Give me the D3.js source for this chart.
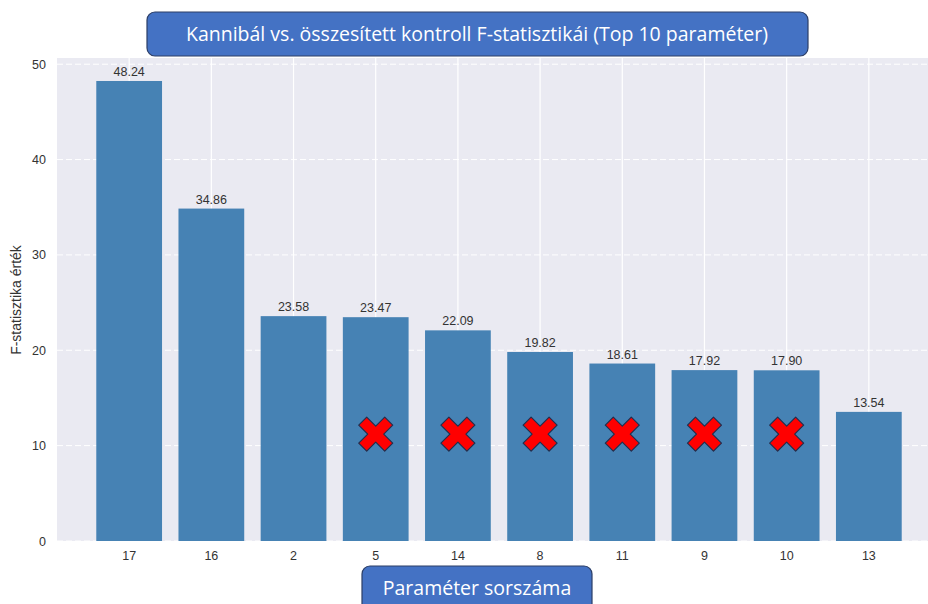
<!DOCTYPE html>
<meta charset="utf-8">
<style>
    body { margin: 0; background: #fff; }
    svg { display: block; font-family: "Liberation Sans", Arial, sans-serif; }
    .tick text { fill: #333; font-size: 12.5px; }
    .val { fill: #333; font-size: 12.5px; text-anchor: middle; }
    .box text { fill: #fff; font-family: "Open Sans", "Noto Sans", sans-serif; font-size: 19.5px; text-anchor: middle; }
</style>
<svg width="928" height="604"></svg>
<script src="https://d3js.org/d3.v7.min.js"></script>
<script>
    var params = ["17", "16", "2", "5", "14", "8", "11", "9", "10", "13"];
    var fValues = [48.24, 34.86, 23.58, 23.47, 22.09, 19.82, 18.61, 17.92, 17.90, 13.54];
    var crossed = ["5", "14", "8", "11", "9", "10"];
    var yTicks = [0, 10, 20, 30, 40, 50];

    var svg = d3.select("svg");
    var plotLeft = 57, plotTop = 58, plotBottom = 541, plotRight = 941;

    var x = d3.scaleBand()
        .domain(params)
        .range([plotLeft, plotRight])
        .paddingInner(0.2)
        .paddingOuter(0.478);

    var y = d3.scaleLinear()
        .domain([0, 50.65])
        .range([plotBottom, plotTop]);

    // background
    svg.append("rect")
        .attr("x", plotLeft).attr("y", plotTop)
        .attr("width", plotRight - plotLeft).attr("height", plotBottom - plotTop)
        .attr("fill", "#eaeaf2");

    // horizontal grid (dashed)
    svg.append("g").selectAll("line")
        .data(yTicks)
        .enter().append("line")
        .attr("x1", plotLeft).attr("x2", plotRight)
        .attr("y1", function(d) { return y(d); })
        .attr("y2", function(d) { return y(d); })
        .attr("stroke", "#fff")
        .attr("stroke-width", 1)
        .attr("stroke-dasharray", "6,3");

    // vertical grid (solid)
    svg.append("g").selectAll("line")
        .data(params)
        .enter().append("line")
        .attr("x1", function(d) { return x(d) + x.bandwidth() / 2; })
        .attr("x2", function(d) { return x(d) + x.bandwidth() / 2; })
        .attr("y1", plotTop).attr("y2", plotBottom)
        .attr("stroke", "#fff")
        .attr("stroke-width", 1.2);

    // bars
    svg.append("g").selectAll("rect")
        .data(params)
        .enter().append("rect")
        .attr("x", function(d) { return x(d); })
        .attr("width", x.bandwidth())
        .attr("y", function(d, i) { return y(fValues[i]); })
        .attr("height", function(d, i) { return plotBottom - y(fValues[i]); })
        .attr("fill", "#4682b4");

    // value labels
    svg.append("g").selectAll("text")
        .data(params)
        .enter().append("text")
        .attr("class", "val")
        .attr("x", function(d) { return x(d) + x.bandwidth() / 2; })
        .attr("y", function(d, i) { return y(fValues[i]) - 5; })
        .text(function(d, i) { return fValues[i].toFixed(2); });

    // axes
    var yAxis = svg.append("g")
        .attr("transform", "translate(" + plotLeft + ",0)")
        .call(d3.axisLeft(y).tickValues(yTicks).tickSize(0).tickPadding(11));
    yAxis.select(".domain").remove();

    var xAxis = svg.append("g")
        .attr("transform", "translate(0," + plotBottom + ")")
        .call(d3.axisBottom(x).tickSize(0).tickPadding(10));
    xAxis.select(".domain").remove();

    svg.append("text")
        .attr("transform", "translate(21,300) rotate(-90)")
        .attr("text-anchor", "middle")
        .attr("fill", "#333")
        .attr("font-size", 14)
        .text("F-statisztika érték");

    // red crosses
    var crossY = 11.2;
    var cross = "M-9,-17 L0,-8 L9,-17 L17,-9 L8,0 L17,9 L9,17 L0,8 L-9,17 L-17,9 L-8,0 L-17,-9 Z";
    svg.append("g").selectAll("path")
        .data(crossed)
        .enter().append("path")
        .attr("d", cross)
        .attr("transform", function(d) {
            return "translate(" + (x(d) + x.bandwidth() / 2) + "," + y(crossY) + ")";
        })
        .attr("fill", "#ff0000")
        .attr("stroke", "#1f2f4f")
        .attr("stroke-width", 1.2)
        .attr("stroke-linejoin", "round");

    // title box
    var tb = svg.append("g").attr("class", "box");
    tb.append("rect")
        .attr("x", 147).attr("y", 12).attr("width", 661).attr("height", 44)
        .attr("rx", 8)
        .attr("fill", "#4472c4").attr("stroke", "#2c3e66").attr("stroke-width", 1.2);
    tb.append("text")
        .attr("x", 477).attr("y", 41)
        .text("Kannibál vs. összesített kontroll F-statisztikái (Top 10 paraméter)");

    // x label box
    var xb = svg.append("g").attr("class", "box");
    xb.append("rect")
        .attr("x", 362).attr("y", 566).attr("width", 230).attr("height", 50)
        .attr("rx", 8)
        .attr("fill", "#4472c4").attr("stroke", "#2c3e66").attr("stroke-width", 1.2);
    xb.append("text")
        .attr("x", 477).attr("y", 595)
        .text("Paraméter sorszáma");
</script>
